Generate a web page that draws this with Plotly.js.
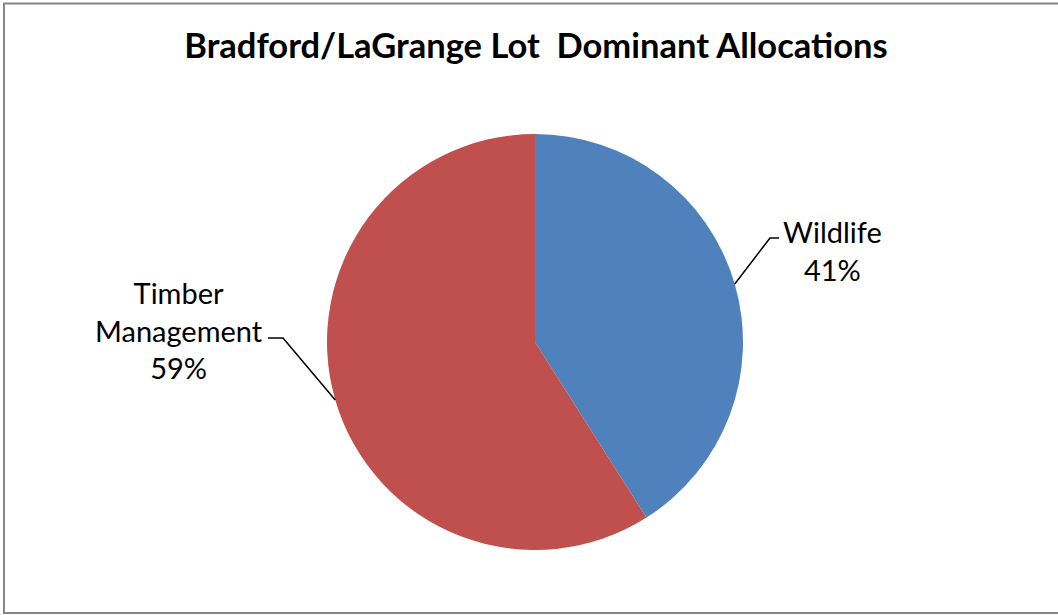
<!DOCTYPE html>
<html>
<head>
<meta charset="utf-8">
<script src="https://cdn.plot.ly/plotly-3.0.1.min.js"></script>
<style>html,body{margin:0;padding:0;background:#fff;}#chart{width:1058px;height:615px;}</style>
</head>
<body>
<div id="chart"></div>
<script>
const categories = ["Wildlife", "Timber Management"];
const labelLines = [["Wildlife"], ["Timber", "Management"]];
const values = [41, 59];
const colors = ["#4F81BD", "#C0504D"];

const W = 1058, H = 615;
const cx = 535, cy = 342, R = 208;
// label layout (pixel positions of the leader elbow and label anchors) – style only
const labelStyle = [
  {elbow: [770, 238], end: [779, 238], tx: 781, ty: 250, anchor: "left"},
  {elbow: [283, 338], end: [268, 338], tx: 265, ty: 330, anchor: "right"}
];

const px = x => x / W;
const py = y => 1 - y / H;

const total = values.reduce((a, b) => a + b, 0);
const shapes = [{
  type: "rect", xref: "paper", yref: "paper",
  x0: px(4), x1: px(1062), y0: py(613), y1: py(3.5),
  line: {color: "#868686", width: 2}, fillcolor: "rgba(0,0,0,0)"
}];
const annotations = [];
let cum = 0;
values.forEach((v, i) => {
  const mid = (cum + v / 2) / total * 2 * Math.PI;
  cum += v;
  const ex = cx + R * Math.sin(mid), ey = cy - R * Math.cos(mid);
  const s = labelStyle[i];
  shapes.push({
    type: "path", xref: "paper", yref: "paper",
    path: `M ${px(ex)} ${py(ey)} L ${px(s.elbow[0])} ${py(s.elbow[1])} L ${px(s.end[0])} ${py(s.end[1])}`,
    line: {color: "#000", width: 1.5}
  });
  const pct = Math.round(v / total * 100) + "%";
  annotations.push({
    xref: "paper", yref: "paper", x: px(s.tx), y: py(s.ty),
    xanchor: s.anchor, yanchor: "middle", showarrow: false, align: "center",
    text: labelLines[i].concat([pct]).join("<br>"),
    font: {family: "Lato, 'Liberation Sans', sans-serif", size: 29, color: "#000"}
  });
});

const data = [{
  type: "pie",
  labels: categories,
  values: values,
  sort: false,
  direction: "clockwise",
  rotation: 0,
  marker: {colors: colors, line: {width: 0}},
  textinfo: "none",
  hoverinfo: "none",
  showlegend: false,
  domain: {x: [px(cx - R), px(cx + R)], y: [py(cy + R), py(cy - R)]}
}];

const layout = {
  width: W, height: H,
  margin: {l: 0, r: 0, t: 0, b: 0},
  paper_bgcolor: "#fff",
  title: {
    text: "<b>Bradford/LaGrange Lot  Dominant Allocations</b>",
    x: 536 / W, xanchor: "center", xref: "paper",
    y: py(46), yanchor: "middle", yref: "paper",
    font: {family: "Lato, 'Liberation Sans', sans-serif", size: 34.5, color: "#000"}
  },
  shapes: shapes,
  annotations: annotations
};

Plotly.newPlot("chart", data, layout, {displayModeBar: false, staticPlot: true});
</script>
</body>
</html>
